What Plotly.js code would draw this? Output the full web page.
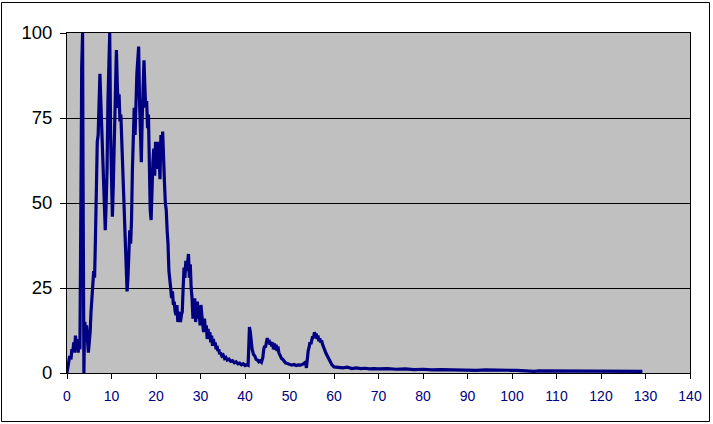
<!DOCTYPE html>
<html>
<head>
<meta charset="utf-8">
<script src="https://cdn.plot.ly/plotly-3.0.1.min.js"></script>
<style>
html,body{margin:0;padding:0;background:#fff;}
#chart{width:713px;height:424px;}
</style>
</head>
<body>
<div id="chart"></div>
<script>
// x values (units along the horizontal axis)
var xVals = [
0,0.3,0.6,0.9,1.1,1.3,1.5,1.7,1.9,2.1,
2.3,2.5,2.7,2.9,3.0,3.1,3.2,3.3,3.4,3.5,
3.6,3.7,3.75,3.8,3.9,4.0,4.2,4.4,4.6,4.8,
5.0,5.2,5.4,5.6,5.8,6.0,6.2,6.4,6.6,6.8,
7.0,7.2,7.4,7.6,7.8,8.0,8.2,8.4,8.6,8.8,
9.0,9.2,9.4,9.6,9.8,10.0,10.2,10.4,10.6,10.8,
11.0,11.1,11.3,11.5,11.7,11.9,12.1,12.3,12.5,12.7,
12.9,13.1,13.3,13.5,13.7,13.9,14.1,14.3,14.5,14.7,
14.9,15.1,15.3,15.5,15.7,15.9,16.1,16.3,16.5,16.7,
16.9,17.1,17.3,17.5,17.7,17.9,18.1,18.3,18.5,18.7,
18.9,19.1,19.3,19.5,19.7,19.9,20.1,20.3,20.5,20.7,
20.9,21.1,21.3,21.5,21.7,21.9,22.1,22.3,22.5,22.7,
22.9,23.1,23.3,23.5,23.7,23.9,24.1,24.3,24.5,24.7,
24.9,25.1,25.3,25.5,25.7,25.9,26.1,26.3,26.5,26.7,
26.9,27.1,27.3,27.5,27.7,27.9,28.1,28.3,28.5,28.7,
28.9,29.1,29.3,29.5,29.7,29.9,30.1,30.3,30.5,30.7,
30.9,31.1,31.3,31.5,31.7,31.9,32.1,32.3,32.5,32.7,
32.9,33.1,33.3,33.5,33.7,33.9,34.1,34.3,34.5,34.8,
35.1,35.4,35.7,36,36.4,36.8,37.2,37.6,38,38.4,
38.8,39.2,39.6,40,40.4,40.7,40.8,41.0,41.2,41.4,
41.6,41.9,42.2,42.5,42.8,43.1,43.4,43.7,44,44.2,
44.4,44.6,44.8,45,45.2,45.4,45.6,45.8,46,46.2,
46.4,46.6,46.8,47,47.2,47.4,47.6,47.9,48.2,48.5,
48.8,49.1,49.5,50,50.5,51,51.5,52,52.5,53,
53.3,53.6,53.8,54,54.2,54.4,54.6,54.8,55,55.2,
55.4,55.6,55.8,56,56.2,56.4,56.6,56.8,57,57.2,
57.4,57.6,57.9,58.2,58.5,58.8,59.1,59.5,60,61,
62,63,64,65,66,67,68,69,70,72,
74,76,78,80,82,84,86,88,90,92,
94,96,98,100,101,102,103,104,105,106,
108,110,112,114,116,118,120,122,124,126,
128,129.3
];
// series values
var yVals = [
0,2,5,4,7,6,9,6,11,7,
10,6,8,7,20,45,65,90,100,100,
60,30,10,0,10,15,12,14,7,6,
9,12,18,24,26,30,28,40,55,68,
70,82,88,80,72,60,55,45,42,50,
60,80,88,100,70,55,46,55,65,80,
88,95,85,78,82,74,76,68,60,52,
45,38,30,24,28,35,42,38,45,60,
72,78,70,82,88,92,96,80,72,62,
75,85,92,84,78,80,72,76,60,48,
45,56,62,66,58,68,64,60,68,62,
57,70,64,71,60,56,50,48,42,38,
30,28,25,22,24,20,21,18,17,20,
15,18,16,15,17,18,25,31,28,33,
30,34,35,28,32,25,22,16,20,22,
15,18,21,16,19,14,20,17,13,12,
16,12,14,10,13,10,12,9,11,8,
10,8,9,7,8,6.5,7,5.5,6,5,
5.3,4.3,4.6,3.8,4.1,3.4,3.6,3,3.3,2.7,
2.9,2.4,2.7,2.2,2.5,2.3,6,13.5,12,9,
7,5.5,5,4,3.8,3.3,3.6,3.2,4.5,6.8,
8,7.5,9.5,10.3,9,9.8,8.3,9.2,7.8,9,
7,8.7,6.8,8.3,6.5,7.8,6,5,4.3,4,
3.3,3,2.8,2.6,2.3,2.5,2.2,2.4,2.3,2.6,
2.9,3.2,1.5,5,6.5,7.5,9,8.5,10,10.8,
10.2,12,11,11.6,10,11,9.3,10.2,9,9.6,
8.5,8,6.8,5.8,5,4,3.2,2.5,1.8,1.6,
1.5,1.7,1.3,1.5,1.3,1.4,1.2,1.3,1.2,1.3,
1.1,1.2,1.0,1.1,0.9,1.0,0.9,1.0,0.9,0.8,
0.9,0.8,0.9,0.8,0.8,0.7,0.6,0.7,0.5,0.6,
0.6,0.5,0.6,0.5,0.6,0.5,0.5,0.6,0.5,0.5,
0.6,0.5
];
var xTicks = [0,10,20,30,40,50,60,70,80,90,100,110,120,130,140];
var yTicks = [0,25,50,75,100];

// plot area in pixels: x 67..690, y 33..373
var W = 713, H = 424, L = 67, R = 23, T = 33, B = 51;
var pw = W - L - R, ph = H - T - B;
function px(xp){ return (xp - L) / pw; }
function py(yp){ return (H - B - yp) / ph; }

var trace = {
  x: xVals, y: yVals, type: 'scatter', mode: 'lines',
  line: {color: '#000080', width: 3.2},
  hoverinfo: 'skip'
};

var fam = 'Arial, "Liberation Sans", sans-serif';
var layout = {
  width: W, height: H,
  margin: {l: L, r: R, t: T, b: B, pad: 0},
  paper_bgcolor: '#ffffff',
  plot_bgcolor: '#c0c0c0',
  showlegend: false,
  font: {family: fam, color: '#000000'},
  xaxis: {
    range: [0, 140], tickvals: xTicks, ticktext: xTicks.map(String),
    showgrid: false, zeroline: false,
    showline: true, linecolor: '#000000', linewidth: 1, mirror: true,
    ticks: 'outside', ticklen: 5, tickcolor: '#000000', tickwidth: 1,
    tickfont: {size: 14, color: '#000080', family: fam},
    ticklabelstandoff: 5,
    fixedrange: true
  },
  yaxis: {
    range: [0, 100], tickvals: yTicks, ticktext: yTicks.map(String),
    showgrid: true, gridcolor: '#000000', gridwidth: 1, zeroline: false,
    showline: true, linecolor: '#000000', linewidth: 1, mirror: true,
    ticks: 'outside', ticklen: 6, tickcolor: '#000000', tickwidth: 1,
    tickfont: {size: 18.5, color: '#000000', family: fam},
    ticklabelstandoff: 4,
    fixedrange: true
  },
  shapes: [{
    type: 'rect', xref: 'paper', yref: 'paper',
    x0: px(1.5), x1: px(709.5), y0: py(421.5), y1: py(2.5),
    line: {color: '#000000', width: 1}, fillcolor: 'rgba(0,0,0,0)', layer: 'below'
  }]
};

Plotly.newPlot('chart', [trace], layout, {displayModeBar: false, staticPlot: true});
</script>
</body>
</html>
